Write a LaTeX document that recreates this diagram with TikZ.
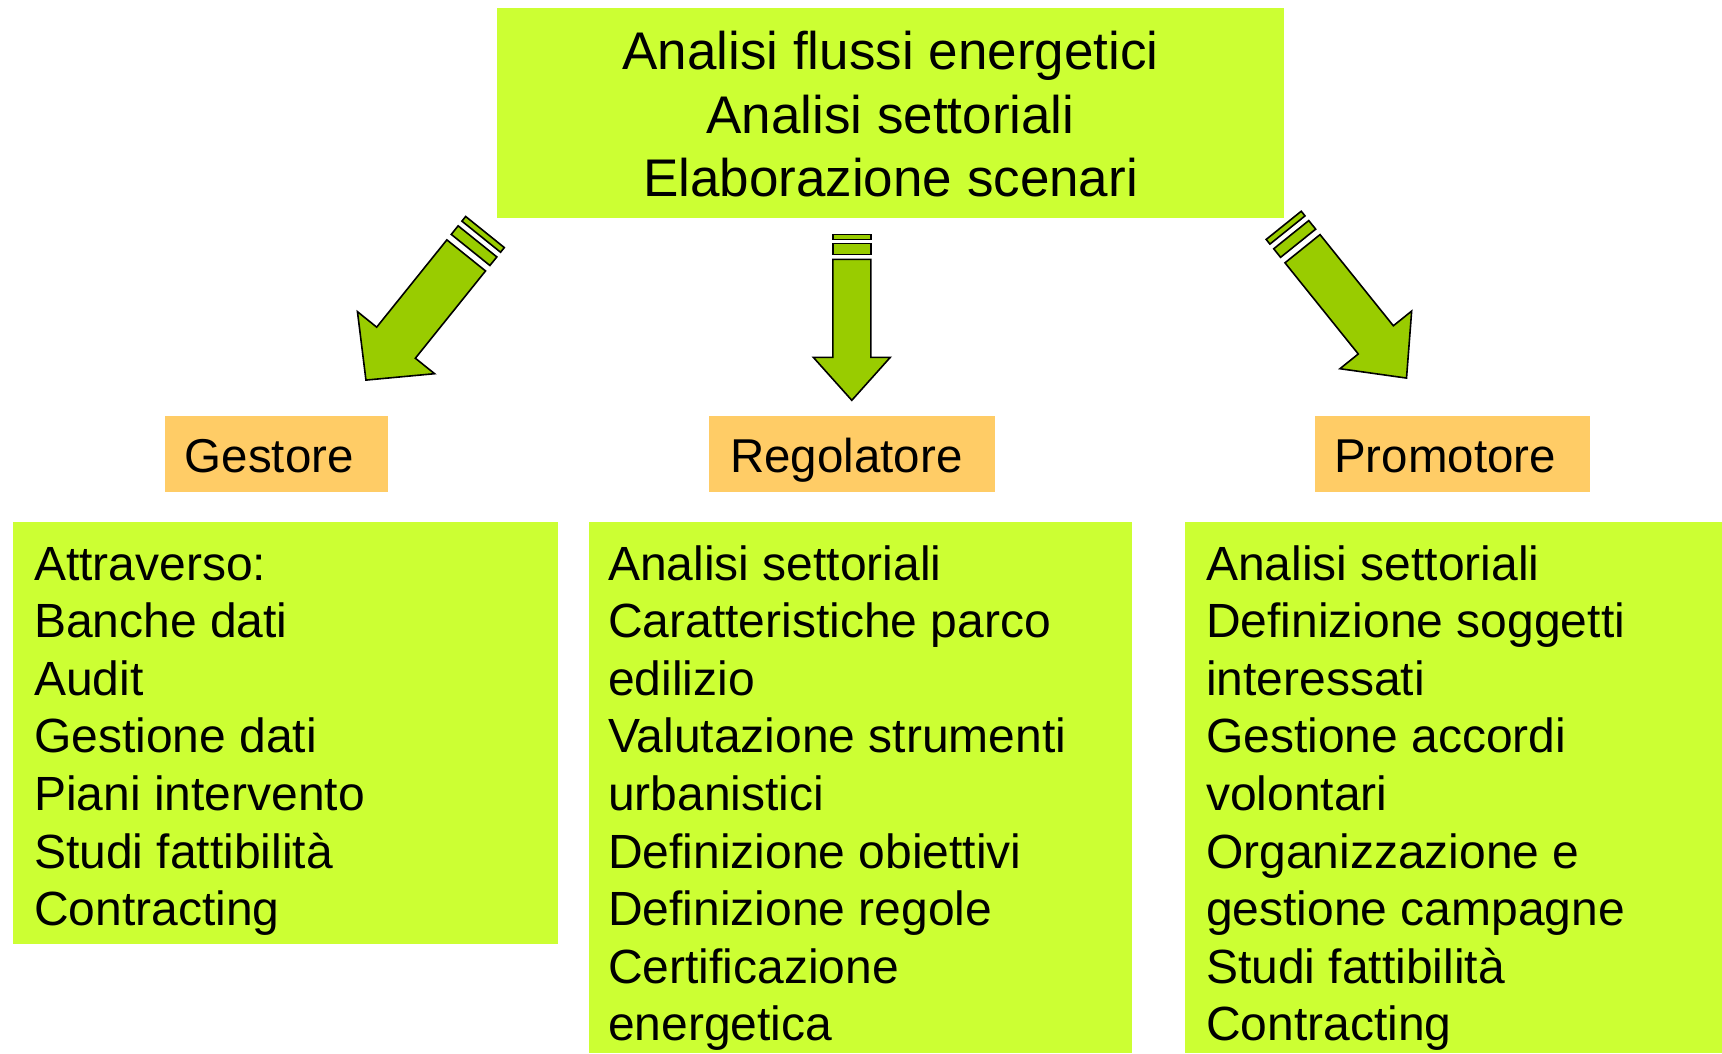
\documentclass[tikz,border=0pt]{standalone}
\usepackage{fontspec}
\setmainfont{Liberation Sans}
\definecolor{lime}{HTML}{CCFF33}
\definecolor{peach}{HTML}{FFCC66}
\definecolor{olivegreen}{HTML}{99CC00}
\begin{document}
\begin{tikzpicture}[x=1pt,y=-1pt,
  limebox/.style={fill=lime, draw=none, inner sep=0pt, anchor=north west},
  rolebox/.style={fill=peach, draw=none, inner sep=0pt, anchor=north west},
  arrowshape/.style={fill=olivegreen, draw=black, line width=1.6pt, line join=miter},
  bigtext/.style={font=\fontsize{53}{63.7}\selectfont, align=center, inner sep=0pt, anchor=base},
  listtext/.style={font=\fontsize{48}{57.6}\selectfont, align=left, inner sep=0pt, anchor=base west},
  roletext/.style={font=\fontsize{47.5}{57}\selectfont, inner sep=0pt, anchor=base west}]
\useasboundingbox (0,0) rectangle (1722,1053);
\fill[white] (0,0) rectangle (1722,1053);

% boxes
\node[limebox, minimum width=787, minimum height=210] (top) at (497,8) {};
\node[rolebox, minimum width=223, minimum height=76] (gest) at (165,416) {};
\node[rolebox, minimum width=286, minimum height=76] (rego) at (709,416) {};
\node[rolebox, minimum width=275, minimum height=76] (prom) at (1315,416) {};
\node[limebox, minimum width=545, minimum height=422] (lbox) at (13,522) {};
\node[limebox, minimum width=543, minimum height=531] (mbox) at (589,522) {};
\node[limebox, minimum width=537, minimum height=531] (rbox) at (1185,522) {};

% texts (anchored at the baseline of the last line)
\node[bigtext] (toptxt) at (890.5,196.9) {Analisi flussi energetici\\Analisi settoriali\\Elaborazione scenari};
\node[roletext] (gtxt) at (184.5,472) {Gestore};
\node[roletext] (rtxt) at (730,472) {Regolatore};
\node[roletext] (ptxt) at (1334,472) {Promotore};
\node[listtext] (ltxt) at (34,925.6) {Attraverso:\\Banche dati\\Audit\\Gestione dati\\Piani intervento\\Studi fattibilità\\Contracting};
\node[listtext] (mtxt) at (608,1040.8) {Analisi settoriali\\Caratteristiche parco\\edilizio\\Valutazione strumenti\\urbanistici\\Definizione obiettivi\\Definizione regole\\Certificazione\\energetica};
\node[listtext] (rtxt2) at (1206,1040.8) {Analisi settoriali\\Definizione soggetti\\interessati\\Gestione accordi\\volontari\\Organizzazione e\\gestione campagne\\Studi fattibilità\\Contracting};

% striped block arrows (local u along arrow, v across)
% left arrow
\begin{scope}[shift={(466.2,255.4)}, rotate=-128.8]
  \draw[arrowshape] (0,-24.8) -- (112,-24.8) -- (112,-49.5) -- (160,0) -- (112,49.5) -- (112,24.8) -- (0,24.8) -- cycle;
  \draw[arrowshape] (-18,-24.8) rectangle (-7,24.8);
  \draw[arrowshape] (-30,-24.8) rectangle (-24,24.8);
\end{scope}
% middle arrow
\begin{scope}[shift={(851.8,259.3)}, rotate=-90]
  \draw[arrowshape] (0,-19) -- (98,-19) -- (98,-38.5) -- (141,0) -- (98,38.5) -- (98,19) -- (0,19) -- cycle;
  \draw[arrowshape] (-16,-19) rectangle (-5,19);
  \draw[arrowshape] (-25,-19) rectangle (-20,19);
\end{scope}
% right arrow
\begin{scope}[shift={(1302.5,248.7)}, rotate=-51.2]
  \draw[arrowshape] (0,-22.5) -- (117,-22.5) -- (117,-46) -- (166,0) -- (117,46) -- (117,22.5) -- (0,22.5) -- cycle;
  \draw[arrowshape] (-18,-22.5) rectangle (-7,22.5);
  \draw[arrowshape] (-30,-22.5) rectangle (-24,22.5);
\end{scope}
\end{tikzpicture}
\end{document}
